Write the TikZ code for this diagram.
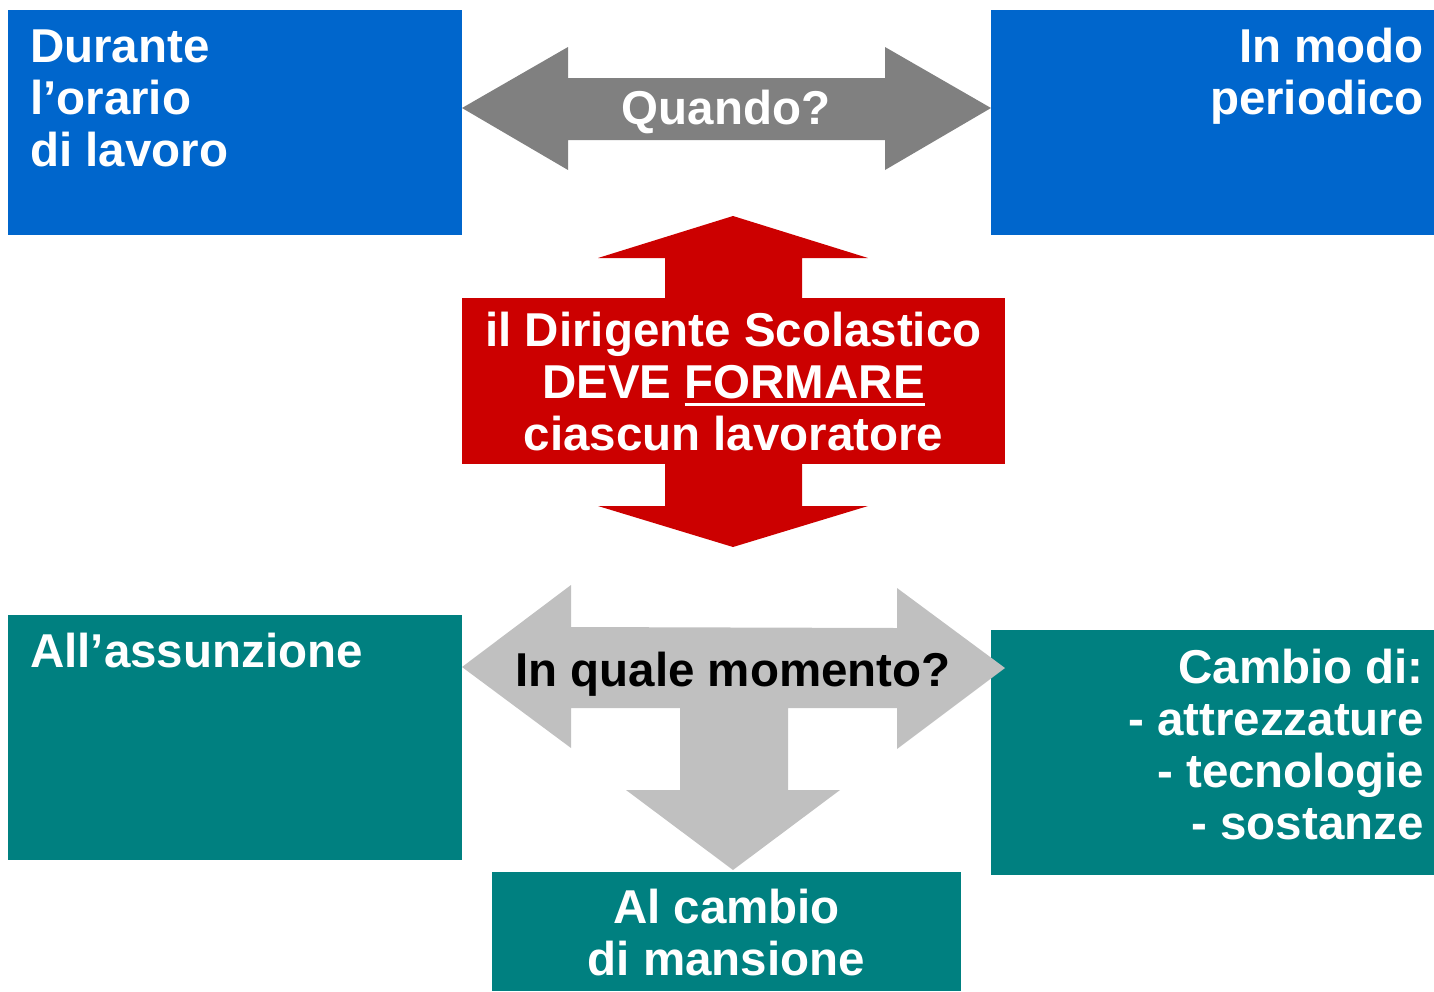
\documentclass[tikz,border=0pt]{standalone}
\usepackage{fontspec}
\setmainfont{Liberation Sans}
\usetikzlibrary{positioning}

\definecolor{boxblue}{HTML}{0066CC}
\definecolor{boxteal}{HTML}{008080}
\definecolor{arrowred}{HTML}{CC0000}
\definecolor{arrowgray}{HTML}{808080}
\definecolor{arrowlight}{HTML}{C0C0C0}

\newcommand{\bigfont}{\fontsize{47.5}{52}\selectfont\bfseries}
\newcommand{\fatul}[1]{\setbox0\hbox{#1}\rlap{\raisebox{-8pt}{\rule{\wd0}{3pt}}}\box0}

\tikzset{
    panel/.style={rectangle, inner sep=0pt, outer sep=0pt, anchor=north west},
    bluepanel/.style={panel, fill=boxblue},
    tealpanel/.style={panel, fill=boxteal},
    paneltext/.style={text=white, font=\bigfont, inner sep=0pt}
}

\begin{document}
\begin{tikzpicture}[x=1pt,y=-1pt]
            \useasboundingbox (0,0) rectangle (1434,991);
            % caselle
            \node[bluepanel, minimum width=454pt, minimum height=225pt] (durante) at (8,10) {};
            \node[bluepanel, minimum width=443pt, minimum height=225pt] (periodico) at (991,10) {};
            \node[tealpanel, minimum width=454pt, minimum height=245pt] (assunzione) at (8,615) {};
            \node[tealpanel, minimum width=443pt, minimum height=245pt] (cambio) at (991,630) {};
            \node[tealpanel, minimum width=469pt, minimum height=119pt] (mansione) at (492,872) {};
            % frecce
            \fill[arrowgray] (durante.east |- 0,108) -- (568,47) -- (568,78) -- (885,78) -- (885,47)
                -- (periodico.west |- 0,108) -- (885,170) -- (885,140) -- (568,140) -- (568,170) -- cycle;
            \fill[arrowred] (733,216) -- (868,258) -- (802,258) -- (802,506) -- (868,506) -- (733,547)
                -- (598,506) -- (665,506) -- (665,258) -- (598,258) -- cycle;
            \node[panel, fill=arrowred, minimum width=543pt, minimum height=166pt] (dirigente) at (462,298) {};
            \fill[arrowlight] (462,667) -- (571,585) -- (571,627) -- (897,628) -- (897,588) -- (1005,668)
                -- (897,749) -- (897,708) -- (788,708) -- (788,790) -- (840,790) -- (733,870) -- (626,790)
                -- (680,790) -- (680,708) -- (571,708) -- (571,748) -- cycle;
            % testi (base = ultima riga)
            \node[paneltext, anchor=base west, align=left] (tdurante) at ([shift={(22,156)}]durante.north west)
                {Durante\\l’orario\\di lavoro};
            \node[paneltext, anchor=base east, align=right] (tperiodico) at ([shift={(-10,104)}]periodico.north east)
                {In modo\\periodico};
            \node[paneltext] (quando) at (726,112) {Quando?};
            \node[paneltext, anchor=base, align=center] (tdirigente) at ([yshift=-152pt]dirigente.north)
                {il Dirigente Scolastico\\DEVE \fatul{FORMARE}\\ciascun lavoratore};
            \node[paneltext, text=black] (momento) at (733,674) {In quale momento?};
            \node[paneltext, anchor=base west] (tassunzione) at ([shift={(22,52)}]assunzione.north west)
                {All’assunzione};
            \node[paneltext, anchor=base east, align=right] (tcambio) at ([shift={(-10,209)}]cambio.north east)
                {Cambio di:\\- attrezzature\\- tecnologie\\- sostanze};
            \node[paneltext, anchor=base, align=center] (tmansione) at ([shift={(0,103)}]mansione.north)
                {Al cambio\\di mansione};
\end{tikzpicture}
\end{document}
